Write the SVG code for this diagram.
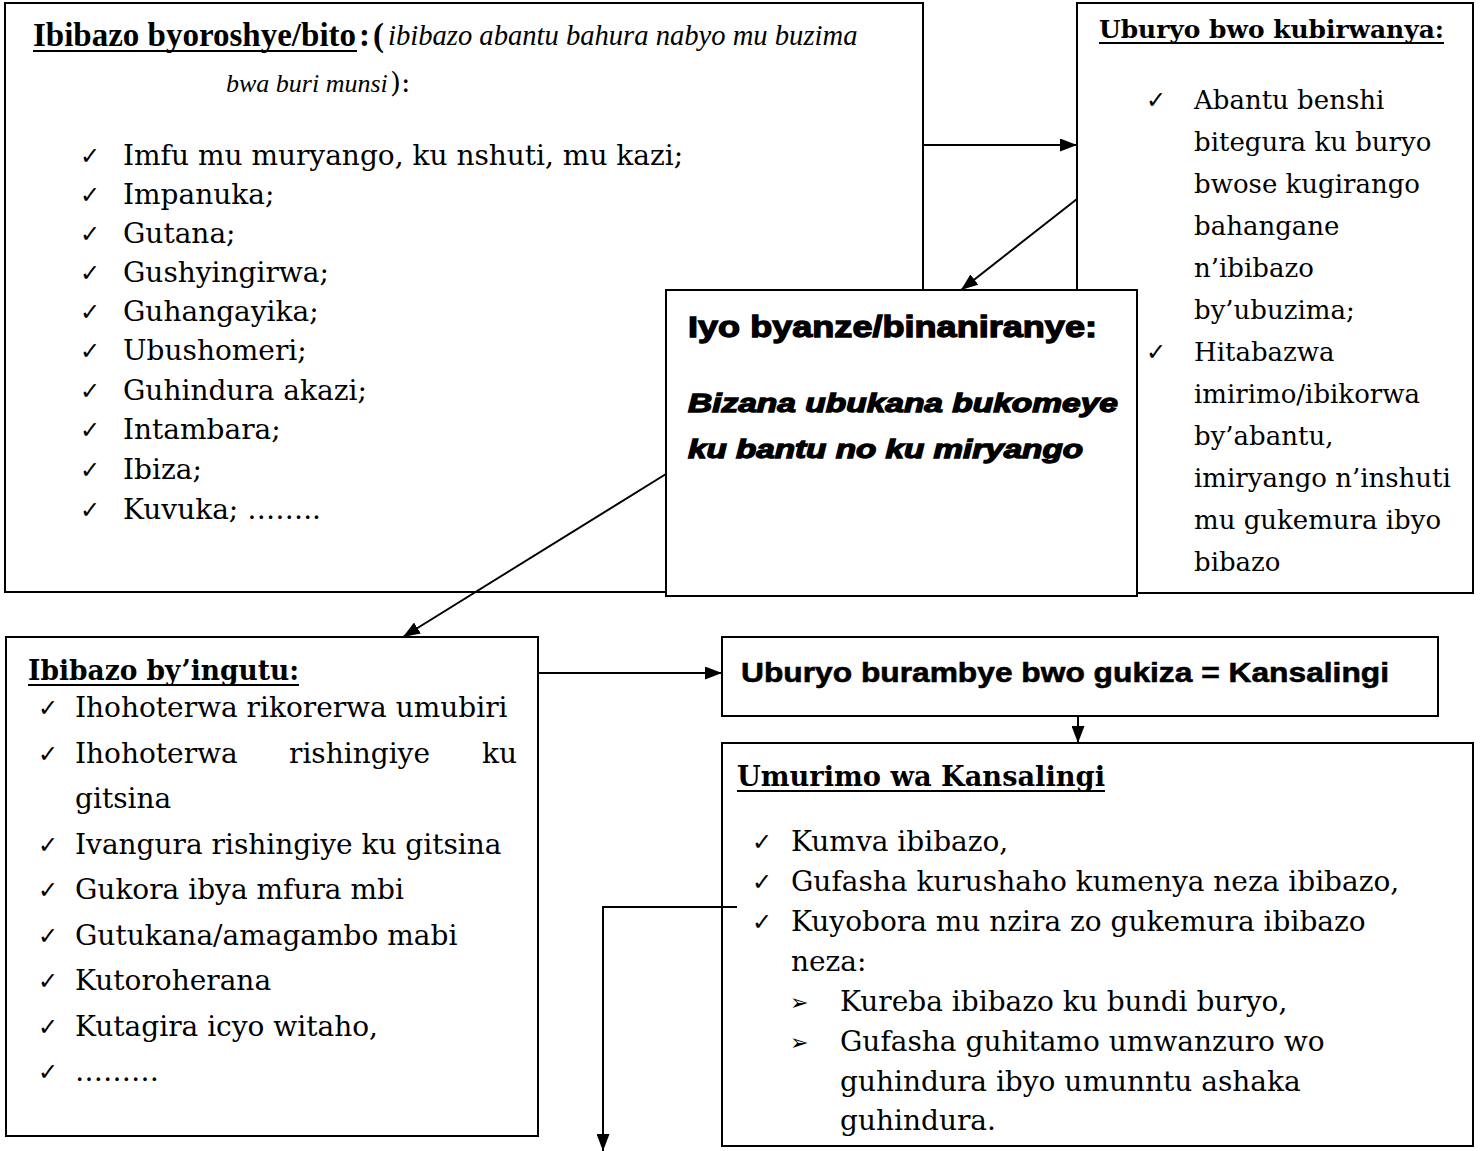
<svg xmlns="http://www.w3.org/2000/svg" width="1481" height="1151" viewBox="0 0 1481 1151">
<style>
.box{fill:#fff;stroke:#000;stroke-width:2}
.conn{stroke:#000;stroke-width:2;fill:none}
.ul{stroke:#000;stroke-width:2}
.body{font-family:"DejaVu Serif",serif;font-size:28px;fill:#000}
.tr{font-size:26px}
.chk{font-family:"DejaVu Sans",sans-serif;font-size:24px;fill:#000}
.ttl{font-family:"DejaVu Serif",serif;font-weight:bold;fill:#000}
.tb{font-family:"Liberation Serif",serif;font-weight:bold;font-size:33px;fill:#000}
.it{font-family:"Liberation Serif",serif;font-style:italic;fill:#000}
.sans{font-family:"Liberation Sans",Arial,sans-serif;font-weight:bold;fill:#000;stroke:#000;stroke-width:0.6}
.heavy{stroke-width:1.3}
</style>
<defs>
<marker id="ah" markerWidth="17" markerHeight="13" refX="17" refY="6.5" orient="auto" markerUnits="userSpaceOnUse"><path d="M0,0 L17,6.5 L0,13 z" fill="#000"/></marker>
<clipPath id="clipU"><rect x="722" y="743" width="751" height="393"/></clipPath>
</defs>

<g id="node-ibibazo-byoroshye">
<rect class="box" x="5" y="3" width="918" height="589"/>
<text class="tb" x="33" y="46">Ibibazo byoroshye/bito</text>
<line class="ul" x1="33" y1="51" x2="357" y2="51"/>
<text class="tb" x="359" y="46">:</text>
<text class="tb" x="373" y="46">(</text>
<text class="it" x="388" y="45" font-size="28.6">ibibazo abantu bahura nabyo mu buzima</text>
<text class="it" x="226" y="92" font-size="26">bwa buri munsi</text>
<text class="body" x="390" y="92" font-size="24">):</text>
<g class="chk">
<text x="80" y="164">✓</text><text x="80" y="203">✓</text><text x="80" y="242">✓</text><text x="80" y="281">✓</text><text x="80" y="320">✓</text><text x="80" y="359">✓</text><text x="80" y="399">✓</text><text x="80" y="438">✓</text><text x="80" y="478">✓</text><text x="80" y="518">✓</text>
</g>
<g class="body">
<text x="123" y="165">Imfu mu muryango, ku nshuti, mu kazi;</text>
<text x="123" y="204">Impanuka;</text>
<text x="123" y="243">Gutana;</text>
<text x="123" y="282">Gushyingirwa;</text>
<text x="123" y="321">Guhangayika;</text>
<text x="123" y="360">Ubushomeri;</text>
<text x="123" y="400">Guhindura akazi;</text>
<text x="123" y="439">Intambara;</text>
<text x="123" y="479">Ibiza;</text>
<text x="123" y="519">Kuvuka; ……..</text>
</g>
</g>

<g id="node-uburyo-bwo-kubirwanya">
<rect class="box" x="1077" y="3" width="396" height="590"/>
<text class="ttl" x="1099" y="38" font-size="24" textLength="345" lengthAdjust="spacingAndGlyphs">Uburyo bwo kubirwanya:</text>
<line class="ul" x1="1099" y1="43" x2="1444" y2="43"/>
<g class="chk"><text x="1146" y="108">✓</text><text x="1146" y="360">✓</text></g>
<g class="body tr">
<text x="1194" y="109">Abantu benshi</text>
<text x="1194" y="151">bitegura ku buryo</text>
<text x="1194" y="193">bwose kugirango</text>
<text x="1194" y="235">bahangane</text>
<text x="1194" y="277">n’ibibazo</text>
<text x="1194" y="319">by’ubuzima;</text>
<text x="1194" y="361">Hitabazwa</text>
<text x="1194" y="403">imirimo/ibikorwa</text>
<text x="1194" y="445">by’abantu,</text>
<text x="1194" y="487">imiryango n’inshuti</text>
<text x="1194" y="529">mu gukemura ibyo</text>
<text x="1194" y="571">bibazo</text>
</g>
</g>

<g id="node-iyo-byanze">
<rect class="box" x="666" y="290" width="471" height="306"/>
<text class="sans heavy" x="688" y="337" font-size="30" textLength="409" lengthAdjust="spacingAndGlyphs">Iyo byanze/binaniranye:</text>
<text class="sans heavy" x="688" y="412" font-size="25" font-style="italic" textLength="430" lengthAdjust="spacingAndGlyphs">Bizana ubukana bukomeye</text>
<text class="sans heavy" x="688" y="458" font-size="25" font-style="italic" textLength="395" lengthAdjust="spacingAndGlyphs">ku bantu no ku miryango</text>
</g>

<g id="node-ibibazo-byingutu">
<rect class="box" x="6" y="637" width="532" height="499"/>
<text class="ttl" x="28" y="680" font-size="27" textLength="271" lengthAdjust="spacingAndGlyphs">Ibibazo by’ingutu:</text>
<line class="ul" x1="28" y1="685" x2="299" y2="685"/>
<g class="chk">
<text x="38" y="716">✓</text><text x="38" y="762">✓</text><text x="38" y="853">✓</text><text x="38" y="898">✓</text><text x="38" y="944">✓</text><text x="38" y="989">✓</text><text x="38" y="1035">✓</text><text x="38" y="1080">✓</text>
</g>
<g class="body">
<text x="75" y="717">Ihohoterwa rikorerwa umubiri</text>
<text x="75" y="763">Ihohoterwa</text>
<text x="289" y="763">rishingiye</text>
<text x="482" y="763">ku</text>
<text x="75" y="808">gitsina</text>
<text x="75" y="854">Ivangura rishingiye ku gitsina</text>
<text x="75" y="899">Gukora ibya mfura mbi</text>
<text x="75" y="945">Gutukana/amagambo mabi</text>
<text x="75" y="990">Kutoroherana</text>
<text x="75" y="1036">Kutagira icyo witaho,</text>
<text x="75" y="1081">………</text>
</g>
</g>

<g id="node-kansalingi">
<rect class="box" x="722" y="637" width="716" height="79"/>
<text class="sans" x="741" y="682" font-size="28" textLength="648" lengthAdjust="spacingAndGlyphs">Uburyo burambye bwo gukiza = Kansalingi</text>
</g>

<g id="node-umurimo">
<rect class="box" x="722" y="743" width="751" height="403"/>
<text class="ttl" x="737" y="786" font-size="28" textLength="368" lengthAdjust="spacingAndGlyphs">Umurimo wa Kansalingi</text>
<line class="ul" x1="737" y1="791" x2="1105" y2="791"/>
<g class="chk">
<text x="752" y="850">✓</text><text x="752" y="890">✓</text><text x="752" y="930">✓</text>
<text x="790" y="1010" font-size="22">➢</text><text x="790" y="1050" font-size="22">➢</text>
</g>
<g class="body" clip-path="url(#clipU)">
<text x="791" y="851">Kumva ibibazo,</text>
<text x="791" y="891">Gufasha kurushaho kumenya neza ibibazo,</text>
<text x="791" y="931">Kuyobora mu nzira zo gukemura ibibazo</text>
<text x="791" y="971">neza:</text>
<text x="840" y="1011">Kureba ibibazo ku bundi buryo,</text>
<text x="840" y="1051">Gufasha guhitamo umwanzuro wo</text>
<text x="840" y="1091">guhindura ibyo umunntu ashaka</text>
<text x="840" y="1130">guhindura.</text>
</g>
</g>

<g id="connectors">
<line class="conn" x1="923" y1="145" x2="1077" y2="145" marker-end="url(#ah)"/>
<line class="conn" x1="1077" y1="199" x2="961" y2="290" marker-end="url(#ah)"/>
<line class="conn" x1="666" y1="474" x2="403" y2="637" marker-end="url(#ah)"/>
<line class="conn" x1="538" y1="673" x2="722" y2="673" marker-end="url(#ah)"/>
<line class="conn" x1="1078" y1="716" x2="1078" y2="743" marker-end="url(#ah)"/>
<polyline class="conn" points="737,907 603,907 603,1151" marker-end="url(#ah)"/>
</g>
</svg>
